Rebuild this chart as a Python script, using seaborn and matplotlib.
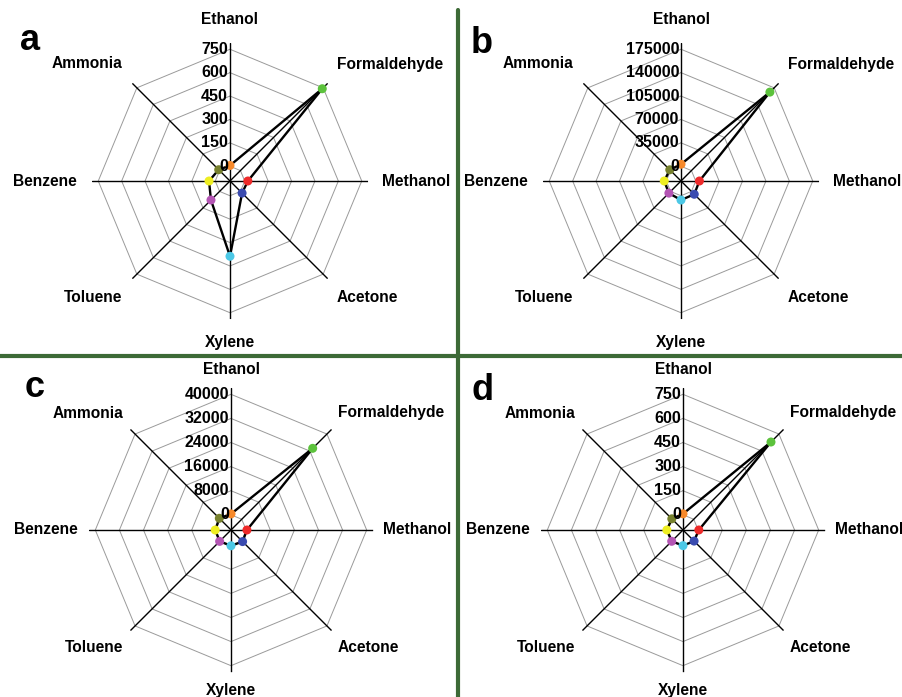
"""
Radar charts of gas sensor responses (panels a-d)
"""
import numpy as np
import pandas as pd
import matplotlib
matplotlib.use('Agg')
import matplotlib.pyplot as plt
import seaborn as sns
from matplotlib.lines import Line2D

# Data
categories = ['Ethanol', 'Formaldehyde', 'Methanol', 'Acetone',
              'Xylene', 'Toluene', 'Benzene', 'Ammonia']
marker_colors = ['#f7892a', '#5cc23c', '#ee2a2a', '#3a4bb0',
                 '#4cc8e6', '#b455b4', '#eeee22', '#77812e']

a_values = [5, 742, 20, 15, 388, 78, 40, 8]
b_values = [3000, 166000, 5500, 6000, 6400, 3600, 3000, 1700]
c_values = [300, 33300, 250, 400, 200, 300, 200, 450]
d_values = [6, 680, 4, 3, 3, 5, 6, 4]

a_ticks = [0, 150, 300, 450, 600, 750]
b_ticks = [0, 35000, 70000, 105000, 140000, 175000]
c_ticks = [0, 8000, 16000, 24000, 32000, 40000]
d_ticks = [0, 150, 300, 450, 600, 750]

W, H = 902, 697
FONT = ['Liberation Sans', 'DejaVu Sans']

# where each category label sits relative to the chart centre (pixels)
label_offsets = {
    'Ethanol': (0, 161, 'center'),
    'Formaldehyde': (107, 117, 'left'),
    'Methanol': (152, 0, 'left'),
    'Acetone': (107, -117, 'left'),
    'Xylene': (0, -161, 'center'),
    'Toluene': (-108, -117, 'right'),
    'Benzene': (-153, 0, 'right'),
    'Ammonia': (-108, 117, 'right'),
}


def add_radar(fig, cx, cy, step_px, values, ticks):
    """Draw one octagonal radar panel centred at (cx, cy) pixels"""
    n = len(categories)
    step = ticks[1] - ticks[0]
    r_lo = -0.63 * step
    r_hi = ticks[-1] + 0.27 * step
    R = (r_hi - r_lo) / step * step_px

    ax = fig.add_axes([(cx - R) / W, 1 - (cy + R) / H, 2 * R / W, 2 * R / H],
                      projection='polar')
    ax.set_theta_zero_location('N')
    ax.set_theta_direction(-1)
    ax.patch.set_alpha(0)

    theta = np.linspace(0, 2 * np.pi, n, endpoint=False)
    closed_theta = np.append(theta, theta[0])

    # octagon rings
    for t in ticks:
        ax.plot(closed_theta, [t] * (n + 1), color='#9a9a9a', lw=0.7, zorder=1)
    # spokes
    for th in theta:
        ax.plot([th, th], [r_lo, r_hi], color='black', lw=1.0, zorder=2)

    line_df = pd.DataFrame({'theta': closed_theta,
                            'value': list(values) + [values[0]]})
    sns.lineplot(data=line_df, x='theta', y='value', sort=False, estimator=None,
                 color='black', lw=1.7, ax=ax, zorder=3)

    pts = pd.DataFrame({'theta': theta, 'value': values, 'gas': categories})
    sns.scatterplot(data=pts, x='theta', y='value', hue='gas',
                    palette=dict(zip(categories, marker_colors)),
                    s=42, edgecolor='none', legend=False, ax=ax, zorder=4)

    ax.set_ylim(r_lo, r_hi)
    ax.grid(False)
    ax.set_xticks([])
    ax.set_yticks([])
    ax.set_xlabel('')
    ax.set_ylabel('')
    ax.spines['polar'].set_visible(False)

    # radial tick labels along the Ethanol spoke
    for t in ticks:
        ax.annotate(f'{t}', xy=(0, t), xycoords='data', xytext=(-2, 0),
                    textcoords='offset pixels', ha='right', va='center',
                    fontsize=11.5, fontweight='bold', family=FONT,
                    color='black', annotation_clip=False, zorder=5)

    # category labels
    for cat in categories:
        dx, dy, ha = label_offsets[cat]
        ax.annotate(cat, xy=(0.5, 0.5), xycoords='axes fraction',
                    xytext=(dx, dy), textcoords='offset pixels',
                    ha=ha, va='center', fontsize=11.2, fontweight='bold',
                    family=FONT, color='black', annotation_clip=False)
    return ax


def main():
    sns.set_theme(style='white')
    plt.rcParams['font.family'] = FONT
    plt.rcParams['text.color'] = 'black'

    fig = plt.figure(figsize=(W / 100, H / 100), dpi=100)

    add_radar(fig, 230, 181, 23.4, a_values, a_ticks)
    add_radar(fig, 681, 181, 23.4, b_values, b_ticks)
    add_radar(fig, 231, 530, 24.1, c_values, c_ticks)
    add_radar(fig, 683, 530, 24.1, d_values, d_ticks)

    # panel letters
    for letter, (x, y) in zip('abcd', [(20, 50), (471, 53), (25, 397), (471, 400)]):
        fig.text(x / W, 1 - y / H, letter, fontsize=26, fontweight='bold',
                 family=FONT, color='black', va='baseline', ha='left')

    # green dividers
    green = '#3d6a37'
    fig.add_artist(Line2D([458 / W, 458 / W], [1 - 10 / H, 0],
                          transform=fig.transFigure, color=green, lw=3, zorder=10))
    fig.add_artist(Line2D([0, 1], [1 - 356 / H, 1 - 356 / H],
                          transform=fig.transFigure, color=green, lw=3, zorder=10))

    fig.savefig('out.png', dpi=100)
    plt.close(fig)


if __name__ == "__main__":
    main()
